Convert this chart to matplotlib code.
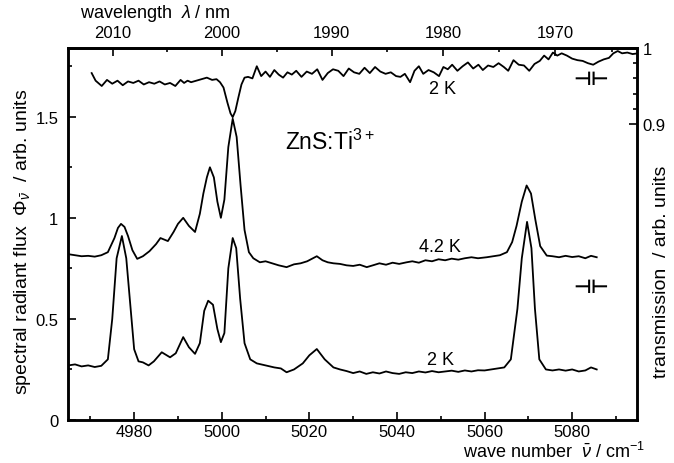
import matplotlib
matplotlib.use("Agg")
import matplotlib.pyplot as plt
import numpy as np
from matplotlib.ticker import FixedLocator, MultipleLocator, FixedFormatter

plt.rcParams['font.family'] = ['Liberation Sans', 'DejaVu Sans']
plt.rcParams['mathtext.fontset'] = 'custom'
plt.rcParams['mathtext.rm'] = 'Liberation Sans'
plt.rcParams['mathtext.it'] = 'Liberation Sans:italic'
plt.rcParams['font.size'] = 12

# emission spectrum at 4.2 K  (wave number / cm-1, flux / arb. units)
em42_nu = [4965.0, 4966.5, 4968.0, 4969.5, 4971.0, 4972.5, 4974.0, 4975.5, 4976.3, 4977.0,
           4977.8, 4978.6, 4979.6, 4980.7, 4982.0, 4983.5, 4985.0, 4986.0, 4987.7, 4989.0,
           4990.0, 4991.2, 4992.5, 4993.9, 4995.0, 4995.8, 4996.6, 4997.3, 4998.2, 4999.0,
           4999.8, 5000.6, 5001.5, 5002.5, 5003.4, 5004.3, 5005.2, 5006.2, 5007.2, 5008.7,
           5010.0, 5011.5, 5013.0, 5014.8, 5016.5, 5018.0, 5019.5, 5021.7, 5023.0, 5024.2,
           5025.5, 5027.0, 5028.5, 5030.0, 5031.5, 5033.1, 5034.5, 5036.0, 5037.5, 5039.0,
           5040.5, 5042.2, 5043.5, 5045.0, 5046.5, 5048.0, 5049.5, 5051.0, 5052.5, 5054.0,
           5055.5, 5057.0, 5058.5, 5060.5, 5062.0, 5063.5, 5065.1, 5066.3, 5067.3, 5068.5,
           5069.6, 5070.6, 5071.6, 5072.7, 5074.2, 5075.5, 5077.0, 5078.5, 5080.0, 5081.5,
           5083.0, 5084.3, 5085.6]
em42_val = [0.82, 0.815, 0.81, 0.812, 0.808, 0.815, 0.83, 0.90, 0.95, 0.97,
            0.955, 0.91, 0.84, 0.797, 0.81, 0.835, 0.87, 0.90, 0.885, 0.93,
            0.97, 1.00, 0.96, 0.93, 1.02, 1.12, 1.20, 1.25, 1.20, 1.08,
            1.00, 1.09, 1.35, 1.49, 1.40, 1.16, 0.94, 0.83, 0.80, 0.78,
            0.785, 0.775, 0.765, 0.756, 0.77, 0.775, 0.785, 0.81, 0.79, 0.78,
            0.775, 0.772, 0.765, 0.762, 0.768, 0.756, 0.765, 0.775, 0.768, 0.778,
            0.772, 0.78, 0.785, 0.778, 0.79, 0.785, 0.795, 0.79, 0.798, 0.793,
            0.80, 0.805, 0.80, 0.805, 0.81, 0.815, 0.83, 0.88, 0.96, 1.08,
            1.16, 1.12, 0.99, 0.86, 0.813, 0.81, 0.805, 0.812, 0.806, 0.81,
            0.80, 0.812, 0.805]

# emission spectrum at 2 K
em2_nu = [4965.0, 4966.5, 4968.0, 4969.5, 4971.0, 4972.5, 4974.0, 4975.0, 4976.0, 4977.2,
          4978.2, 4979.2, 4980.0, 4981.0, 4982.0, 4983.3, 4984.5, 4986.3, 4988.2, 4989.5,
          4991.2, 4992.5, 4993.9, 4995.0, 4996.0, 4996.9, 4998.0, 4999.0, 4999.8, 5000.6,
          5001.5, 5002.5, 5003.3, 5004.2, 5005.2, 5006.5, 5008.0, 5010.0, 5012.0, 5013.5,
          5014.8, 5016.5, 5018.5, 5020.0, 5021.7, 5023.5, 5025.5, 5027.0, 5028.5, 5030.0,
          5031.5, 5033.0, 5034.5, 5036.0, 5037.5, 5039.0, 5040.5, 5042.0, 5043.5, 5045.0,
          5046.5, 5048.0, 5049.5, 5051.0, 5052.5, 5054.0, 5055.5, 5057.0, 5058.5, 5060.0,
          5061.5, 5063.0, 5064.5, 5066.0, 5067.5, 5068.5, 5069.7, 5070.7, 5071.5, 5072.5,
          5074.0, 5075.5, 5077.0, 5078.5, 5080.0, 5081.5, 5083.0, 5084.3, 5085.6]
em2_val = [0.27, 0.275, 0.265, 0.27, 0.262, 0.268, 0.30, 0.50, 0.80, 0.91,
           0.80, 0.55, 0.35, 0.29, 0.285, 0.27, 0.29, 0.335, 0.31, 0.33,
           0.41, 0.36, 0.327, 0.38, 0.54, 0.59, 0.57, 0.45, 0.385, 0.43,
           0.75, 0.90, 0.85, 0.60, 0.38, 0.30, 0.28, 0.27, 0.26, 0.255,
           0.236, 0.25, 0.28, 0.32, 0.351, 0.30, 0.26, 0.25, 0.242, 0.232,
           0.24, 0.228, 0.236, 0.23, 0.24, 0.232, 0.228, 0.236, 0.232, 0.24,
           0.235, 0.242, 0.236, 0.24, 0.244, 0.238, 0.245, 0.24, 0.246, 0.245,
           0.25, 0.255, 0.26, 0.30, 0.55, 0.80, 0.98, 0.85, 0.55, 0.30,
           0.25, 0.245, 0.25, 0.244, 0.25, 0.24, 0.245, 0.26, 0.25]

# transmission at 2 K (right axis)
tr_nu = [4970.3, 4971.2, 4972.6, 4973.8, 4975.0, 4976.2, 4977.4, 4978.6, 4979.8, 4981.0,
         4982.2, 4983.4, 4984.6, 4985.8, 4987.0, 4988.2, 4989.4, 4990.6, 4991.4, 4992.2,
         4993.0, 4994.2, 4995.4, 4996.6, 4997.8, 4998.8, 4999.6, 5000.4, 5001.3, 5002.0,
         5002.5, 5003.1, 5003.8, 5004.5, 5005.2, 5006.0, 5007.0, 5008.0, 5009.0, 5010.0,
         5011.0, 5012.0, 5013.0, 5014.0, 5015.0, 5016.0, 5017.0, 5018.2, 5019.4, 5020.6,
         5021.8, 5023.0, 5024.2, 5025.4, 5026.6, 5027.8, 5029.0, 5030.2, 5031.4, 5032.6,
         5033.8, 5035.0, 5036.2, 5037.4, 5038.6, 5039.8, 5040.8, 5041.8, 5043.0, 5044.0,
         5045.0, 5046.0, 5047.2, 5048.4, 5049.6, 5050.6, 5051.6, 5052.6, 5053.8, 5055.0,
         5056.2, 5057.4, 5058.6, 5059.6, 5060.8, 5062.0, 5063.2, 5064.4, 5065.4, 5066.6,
         5067.8, 5069.0, 5070.2, 5071.4, 5072.6, 5073.6, 5074.6, 5075.6, 5076.6, 5077.6,
         5078.8, 5080.0, 5081.2, 5082.4, 5083.6, 5084.8, 5086.0, 5087.2, 5088.4, 5089.4,
         5090.4, 5091.4, 5092.6, 5093.8, 5095.0]
tr_val = [0.967, 0.957, 0.950, 0.958, 0.953, 0.957, 0.951, 0.956, 0.954, 0.957,
          0.952, 0.955, 0.953, 0.956, 0.952, 0.954, 0.950, 0.958, 0.954, 0.957,
          0.955, 0.957, 0.959, 0.961, 0.958, 0.959, 0.955, 0.948, 0.928, 0.914,
          0.909, 0.917, 0.935, 0.952, 0.961, 0.962, 0.960, 0.976, 0.963, 0.969,
          0.962, 0.971, 0.965, 0.961, 0.968, 0.965, 0.970, 0.962, 0.969, 0.966,
          0.972, 0.958, 0.967, 0.972, 0.970, 0.963, 0.973, 0.968, 0.966, 0.974,
          0.967, 0.975, 0.969, 0.966, 0.968, 0.963, 0.962, 0.966, 0.955, 0.970,
          0.976, 0.966, 0.971, 0.968, 0.963, 0.975, 0.972, 0.978, 0.970, 0.976,
          0.981, 0.973, 0.978, 0.971, 0.977, 0.975, 0.980, 0.975, 0.970, 0.984,
          0.978, 0.977, 0.970, 0.979, 0.983, 0.990, 0.985, 0.994, 0.990, 0.993,
          0.990, 0.986, 0.984, 0.983, 0.980, 0.978, 0.982, 0.985, 0.987, 0.993,
          0.996, 0.993, 0.994, 0.992, 0.993]

wl_ticks = [2010, 2000, 1990, 1980, 1970]

fig = plt.figure(figsize=(6.74, 4.64), dpi=100)
ax = fig.add_axes([0.1009, 0.0927, 0.8442, 0.8017])

ax.plot(em42_nu, em42_val, color='black', lw=1.3)
ax.plot(em2_nu, em2_val, color='black', lw=1.3)
ax.set_xlim(4964.9, 5094.8)
ax.set_ylim(0, 1.84)

ax.xaxis.set_major_locator(MultipleLocator(20))
ax.xaxis.set_minor_locator(MultipleLocator(10))
ax.yaxis.set_major_locator(FixedLocator([0, 0.5, 1, 1.5]))
ax.yaxis.set_major_formatter(FixedFormatter(['0', '0.5', '1', '1.5']))
ax.yaxis.set_minor_locator(MultipleLocator(0.25))
ax.tick_params(which='both', direction='in', top=False, right=False, width=1.2)
ax.tick_params(which='major', length=6)
ax.tick_params(which='minor', length=3)
ax.tick_params(axis='y', pad=7)
ax.tick_params(axis='x', pad=3)
for s in ax.spines.values():
    s.set_linewidth(1.8)

ax2 = ax.twinx()
ax2.plot(tr_nu, tr_val, color='black', lw=1.3)
ax2.set_ylim(0.5105, 1.0)
ax2.yaxis.set_major_locator(FixedLocator([0.9, 1.0]))
ax2.yaxis.set_major_formatter(FixedFormatter(['0.9', '1']))
ax2.yaxis.set_minor_locator(FixedLocator([0.92, 0.94, 0.96, 0.98]))
ax2.tick_params(which='both', direction='in', width=1.2)
ax2.tick_params(which='major', length=6, pad=4)
ax2.tick_params(which='minor', length=3)
for s in ax2.spines.values():
    s.set_linewidth(1.8)

def nu2wl(x):
    x = np.asarray(x, dtype=float)
    return 1e7 / np.where(x == 0, 1e-9, x)

top = ax.secondary_xaxis('top', functions=(nu2wl, nu2wl))
top.xaxis.set_major_locator(FixedLocator(wl_ticks))
top.xaxis.set_minor_locator(MultipleLocator(5))
top.tick_params(which='both', direction='in', width=1.2)
top.tick_params(which='major', length=6, pad=6)
top.tick_params(which='minor', length=3)
top.spines['top'].set_linewidth(1.8)

fig.text(0.034, 1 - 242 / 464, r'spectral radiant flux  $\Phi_{\bar{\nu}}$  / arb. units',
         rotation=90, ha='center', va='center', fontsize=14)
fig.text(662 / 674, 1 - 272 / 464, 'transmission  / arb. units',
         rotation=90, ha='center', va='center', fontsize=14)
fig.text(645 / 674, 1 - 452 / 464, r'wave number  $\bar{\nu}$ / cm$^{-1}$',
         ha='right', va='center', fontsize=13)
fig.text(80 / 674, 1 - 14 / 464, r'wavelength  $\lambda$ / nm', ha='left', va='center', fontsize=13)

ax.text(5050.5, 1.64, '2 K', ha='center', va='center', fontsize=13)
ax.text(5049.8, 0.86, '4.2 K', ha='center', va='center', fontsize=13)
ax.text(5050.0, 0.30, '2 K', ha='center', va='center', fontsize=13)
ax.text(5014.4, 1.38, r'ZnS:Ti$^{3+}$', ha='left', va='center', fontsize=16.5)
ax.text(5084.4, 1.69, '⊣⊢', ha='center', va='center', family='DejaVu Sans',
        fontsize=14, fontweight='bold')
ax.text(5084.4, 0.66, '⊣⊢', ha='center', va='center', family='DejaVu Sans',
        fontsize=14, fontweight='bold')

fig.savefig('out.png', dpi=100)
